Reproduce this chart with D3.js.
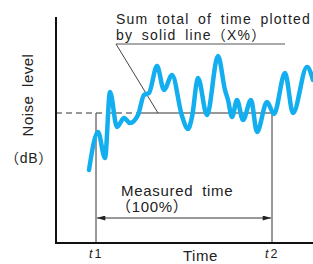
<!DOCTYPE html>
<html>
<head>
<meta charset="utf-8">
<script src="https://cdn.jsdelivr.net/npm/d3@7"></script>
<style>
  body { margin: 0; background: #fff; }
  text { font-family: "Liberation Sans", Arial, "Noto Sans CJK JP", sans-serif; fill: #222; }
</style>
</head>
<body>
<div id="chart"></div>
<script>
// noise level trace (arbitrary units)
const times = [33, 42, 49, 54, 61, 68, 74, 82, 88, 93, 101, 108, 116, 126, 132, 136, 142, 151, 162, 169, 172, 176, 181, 187, 195, 201, 211, 218, 229, 237, 251, 257]
const levels = [73, 111, 85, 151, 116, 125, 120, 128, 148, 150, 177, 153, 168, 127, 114, 126, 165, 128, 187, 153, 143, 126, 143, 123, 143, 111, 141, 129, 170, 130, 176, 163]

const t1 = 40
const t2 = 216
const threshold = 130
const dashEnd = 84
const timeMax = 257
const levelMax = 226

const width = 313
const height = 264
const margin = { top: 17, right: 0, bottom: 21, left: 56 }

const svg = d3.select('#chart')
    .append('svg')
    .attr('width', width)
    .attr('height', height)

const x = d3.scaleLinear()
    .domain([0, timeMax])
    .range([margin.left, width - margin.right])
const y = d3.scaleLinear()
    .domain([0, levelMax])
    .range([height - margin.bottom, margin.top])

const data = times.map((t, i) => ({ t: t, v: levels[i] }))

// arrow marker
const defs = svg.append('defs')
defs.append('marker')
    .attr('id', 'arr')
    .attr('viewBox', '0 0 10 6')
    .attr('refX', 10)
    .attr('refY', 3)
    .attr('markerWidth', 9)
    .attr('markerHeight', 5)
    .attr('markerUnits', 'userSpaceOnUse')
    .attr('orient', 'auto-start-reverse')
    .append('path')
    .attr('d', 'M0,0L10,3L0,6Z')
    .attr('fill', '#222')

// threshold line: dashed then solid
svg.append('line')
    .attr('x1', x(0)).attr('x2', x(dashEnd))
    .attr('y1', y(threshold)).attr('y2', y(threshold))
    .attr('stroke', '#333').attr('stroke-width', 1)
    .attr('stroke-dasharray', '6,4')
svg.append('line')
    .attr('x1', x(dashEnd)).attr('x2', x(t2))
    .attr('y1', y(threshold)).attr('y2', y(threshold))
    .attr('stroke', '#333').attr('stroke-width', 1)

// t1 / t2 verticals
;[t1, t2].forEach(t => {
    svg.append('line')
        .attr('x1', x(t)).attr('x2', x(t))
        .attr('y1', y(threshold)).attr('y2', y(0))
        .attr('stroke', '#333').attr('stroke-width', 1)
})

// measured time arrow
svg.append('line')
    .attr('x1', x(t1) + 1).attr('x2', x(t2) - 1)
    .attr('y1', 218).attr('y2', 218)
    .attr('stroke', '#333').attr('stroke-width', 1)
    .attr('marker-start', 'url(#arr)')
    .attr('marker-end', 'url(#arr)')

// leader line for the annotation
svg.append('line')
    .attr('x1', 116).attr('y1', 44)
    .attr('x2', 285).attr('y2', 44)
    .attr('stroke', '#555').attr('stroke-width', 1)
svg.append('line')
    .attr('x1', 116).attr('y1', 44)
    .attr('x2', 158).attr('y2', y(threshold))
    .attr('stroke', '#444').attr('stroke-width', 1)

// the noise curve
svg.append('path')
    .datum(data)
    .attr('fill', 'none')
    .attr('stroke', '#12aef0')
    .attr('stroke-width', 4.5)
    .attr('stroke-linecap', 'round')
    .attr('stroke-linejoin', 'round')
    .attr('d', d3.line()
        .x(d => x(d.t))
        .y(d => y(d.v))
        .curve(d3.curveMonotoneX))

// axes (plain lines, no ticks)
svg.append('line')
    .attr('x1', x(0)).attr('x2', x(0))
    .attr('y1', y(levelMax)).attr('y2', y(0) + 1)
    .attr('stroke', '#111').attr('stroke-width', 2)
svg.append('line')
    .attr('x1', x(0) - 1).attr('x2', x(timeMax))
    .attr('y1', y(0)).attr('y2', y(0))
    .attr('stroke', '#111').attr('stroke-width', 2)

// texts
const label = (xx, yy, s, size, ls, ws) => svg.append('text')
    .attr('x', xx).attr('y', yy)
    .style('font-size', (size || 15) + 'px')
    .style('letter-spacing', (ls == null ? 0.7 : ls) + 'px')
    .style('word-spacing', (ws == null ? 4 : ws) + 'px')
    .text(s)

label(116, 24, 'Sum total of time plotted', 14, 1.2, 3.5)
label(116, 40, 'by solid line（X%）', 14, 1.2, 3.5)
label(121, 196, 'Measured time')
label(116, 212, '（100%）')

svg.append('text')
    .attr('transform', 'translate(33,95) rotate(-90)')
    .attr('text-anchor', 'middle')
    .style('font-size', '15px')
    .style('letter-spacing', '0.5px')
    .style('word-spacing', '4px')
    .text('Noise level')
label(5, 163, '（dB）', 14)

svg.append('text')
    .attr('x', 183).attr('y', 261)
    .style('font-size', '15px')
    .style('letter-spacing', '0.5px')
    .text('Time')

;[[t1, '1'], [t2, '2']].forEach(([t, n]) => {
    const lbl = svg.append('text')
        .attr('x', x(t) - 7).attr('y', 258)
        .style('font-size', '12.5px')
    lbl.append('tspan').style('font-style', 'italic').text('t')
    lbl.append('tspan').attr('dx', 2).text(n)
})
</script>
</body>
</html>
